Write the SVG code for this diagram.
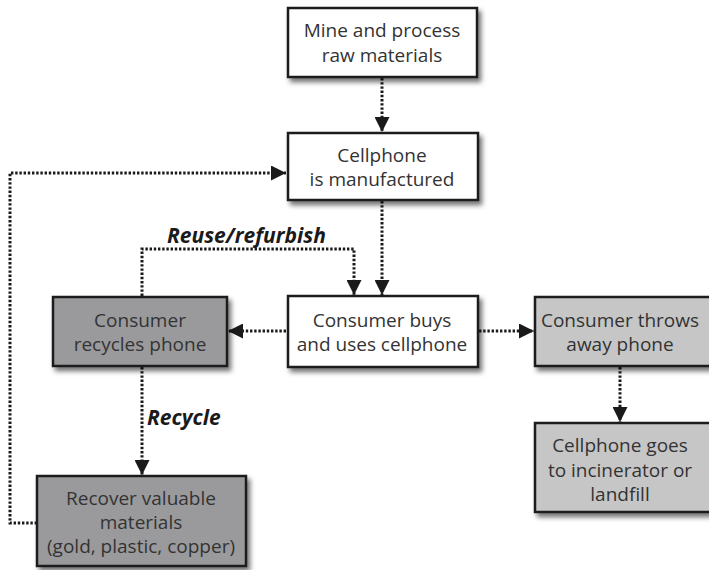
<svg xmlns="http://www.w3.org/2000/svg" width="709" height="570" viewBox="0 0 709 570">
<style>
.box{stroke:#1a1a1a;stroke-width:2.5}
.w{fill:#ffffff}
.d{fill:#9a9a9c}
.l{fill:#c6c6c6}
.t{font-family:"Open Sans","Noto Sans",sans-serif;font-size:19px;font-weight:400;fill:#333333;text-anchor:middle}
.lab{font-family:"Open Sans","Noto Sans",sans-serif;font-size:21px;font-weight:700;font-style:italic;fill:#1a1a1a}
.c{fill:none;stroke:#1a1a1a;stroke-width:3;stroke-dasharray:2.4 1.8}
</style>
<defs>
<filter id="sh" x="-10%" y="-10%" width="130%" height="140%">
<feDropShadow dx="3" dy="4" stdDeviation="2.5" flood-color="#000" flood-opacity="0.55"/>
</filter>
<marker id="ah" viewBox="0 0 10 10" refX="10" refY="5" markerWidth="5" markerHeight="5" markerUnits="strokeWidth" orient="auto">
<path d="M0,0 L10,5 L0,10 Z" fill="#1a1a1a"/>
</marker>
</defs>
<g id="connectors">
<path class="c" d="M382,78 V132" marker-end="url(#ah)"/>
<path class="c" d="M382,201 V295" marker-end="url(#ah)"/>
<path class="c" d="M142,296 V249 H354 V295" marker-end="url(#ah)"/>
<path class="c" d="M286,331 H228" marker-end="url(#ah)"/>
<path class="c" d="M479,331 H534" marker-end="url(#ah)"/>
<path class="c" d="M620,367 V422" marker-end="url(#ah)"/>
<path class="c" d="M142,367 V475" marker-end="url(#ah)"/>
<path class="c" d="M37,523 H10 V173 H286" marker-end="url(#ah)"/>
<text class="lab" x="167" y="243">Reuse/refurbish</text>
<text class="lab" x="147" y="425">Recycle</text>
</g>
<g id="n1"><rect class="box w" x="288" y="8" width="189" height="69" filter="url(#sh)"/>
<text class="t" x="382" y="37">Mine and process</text><text class="t" x="382" y="62">raw materials</text></g>
<g id="n2"><rect class="box w" x="288" y="133" width="190" height="67" filter="url(#sh)"/>
<text class="t" x="382" y="162">Cellphone</text><text class="t" x="382" y="186">is manufactured</text></g>
<g id="n3"><rect class="box w" x="288" y="296" width="190" height="71" filter="url(#sh)"/>
<text class="t" x="382" y="327">Consumer buys</text><text class="t" x="382" y="351">and uses cellphone</text></g>
<g id="n4"><rect class="box d" x="53" y="297" width="174" height="69" filter="url(#sh)"/>
<text class="t" x="140" y="327">Consumer</text><text class="t" x="140" y="351">recycles phone</text></g>
<g id="n5"><rect class="box l" x="535" y="297" width="190" height="69" filter="url(#sh)"/>
<text class="t" x="620" y="327">Consumer throws</text><text class="t" x="620" y="351">away phone</text></g>
<g id="n6"><rect class="box l" x="535" y="423" width="190" height="89" filter="url(#sh)"/>
<text class="t" x="620" y="452">Cellphone goes</text><text class="t" x="620" y="477">to incinerator or</text><text class="t" x="620" y="501">landfill</text></g>
<g id="n7"><rect class="box d" x="37" y="476" width="209" height="90" filter="url(#sh)"/>
<text class="t" x="141" y="505">Recover valuable</text><text class="t" x="141" y="529">materials</text><text class="t" x="141" y="553">(gold, plastic, copper)</text></g>
</svg>
